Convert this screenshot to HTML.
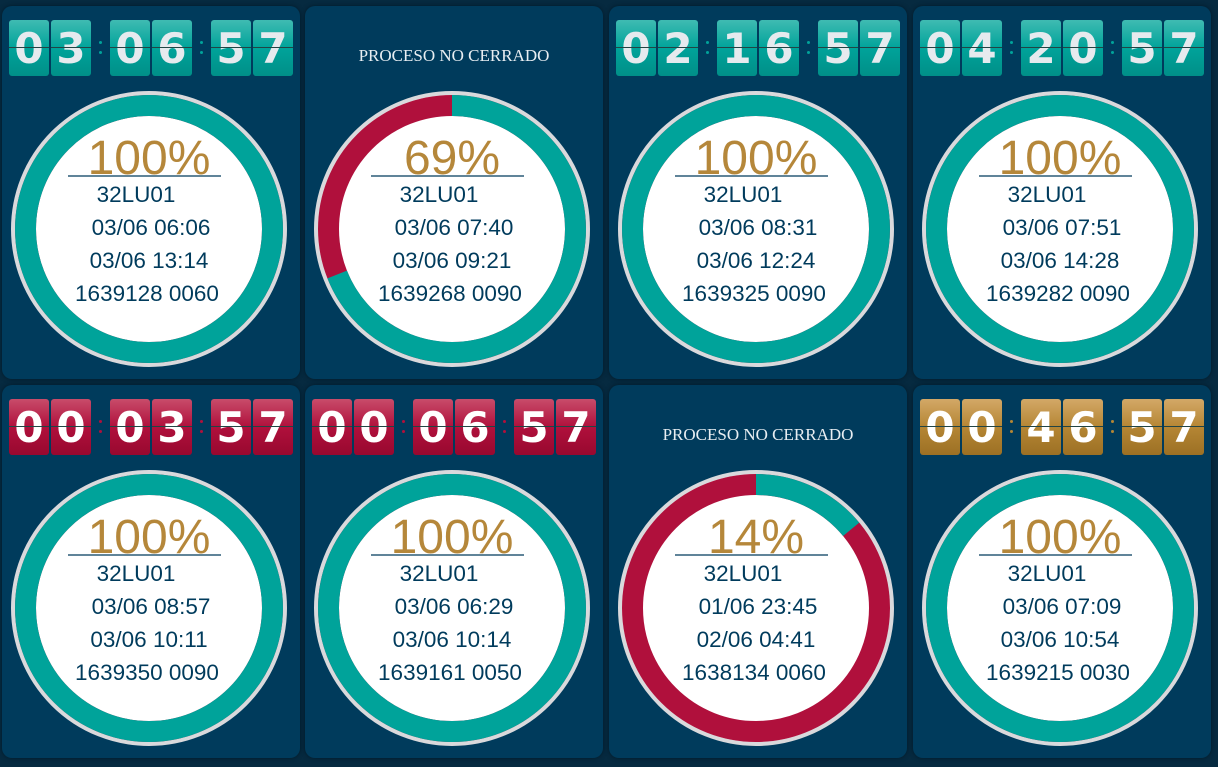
<!DOCTYPE html>
<html><head><meta charset="utf-8"><style>
body{margin:0;width:1218px;height:767px;background:#062a40;overflow:hidden;font-family:"Liberation Sans",sans-serif;position:relative}
.card{position:absolute;width:298px;height:373px;background:#003b5c;border-radius:10px;box-shadow:0 0 4px #021a28}
.dg{position:absolute;top:14px;width:40px;height:56px;border-radius:3px;font-weight:bold;font-size:42px;line-height:58px;text-align:center;color:#e6eaee;font-family:"DejaVu Sans","Liberation Sans",sans-serif}
.dg::after{content:"";position:absolute;left:0;right:0;top:27px;height:1px;background:#244}
.t{background:linear-gradient(#3fbbb2,#00a39a 50%,#008f88)}
.r{background:linear-gradient(#c84c6a,#b0103c 50%,#98082f);color:#fff}
.g{background:linear-gradient(#d3a867,#b58634 50%,#9c7024);color:#fff}
.col{position:absolute;top:35px;width:4px;height:14px;font-size:0}
.col::before,.col::after{content:"";position:absolute;left:0;width:3px;height:3px;border-radius:2px;background:var(--c)}
.col::before{top:0}.col::after{top:10px}
.nc{position:absolute;top:40px;width:298px;text-align:center;color:#e8eef2;font-family:"Liberation Serif",serif;font-size:17px}
svg{position:absolute;left:0;top:0}
</style></head><body>
<script>
const pct=[100,69,100,100,100,100,14,100];
const codes=["32LU01","32LU01","32LU01","32LU01","32LU01","32LU01","32LU01","32LU01"];
const start=["03/06 06:06","03/06 07:40","03/06 08:31","03/06 07:51","03/06 08:57","03/06 06:29","01/06 23:45","03/06 07:09"];
const end=["03/06 13:14","03/06 09:21","03/06 12:24","03/06 14:28","03/06 10:11","03/06 10:14","02/06 04:41","03/06 10:54"];
const orders=["1639128 0060","1639268 0090","1639325 0090","1639282 0090","1639350 0090","1639161 0050","1638134 0060","1639215 0030"];
const timers=["03:06:57",null,"02:16:57","04:20:57","00:03:57","00:06:57",null,"00:46:57"];
const themes=["t",null,"t","t","r","r",null,"g"];
const lefts=[2,305,609,913], tops=[6,385];
const colC={t:"#00a39a",r:"#b0103c",g:"#b58634"};
let svgs='';
for(let i=0;i<8;i++){
 const cx=lefts[i%4], cy=tops[Math.floor(i/4)];
 const c=document.createElement('div');c.className='card';c.style.left=cx+'px';c.style.top=cy+'px';
 
 
 document.body.appendChild(c);
 if(timers[i]){
  const ds=timers[i].replace(/:/g,'');const xs=[7,49,108,150,209,251];
  for(let k=0;k<6;k++){const d=document.createElement('div');d.className='dg '+themes[i];d.style.left=xs[k]+'px';d.textContent=ds[k];
   
   
   c.appendChild(d);}
  [97,198].forEach(x=>{const s=document.createElement('div');s.className='col';s.style.left=x+'px';s.style.setProperty('--c',colC[themes[i]]);
   
   
   c.appendChild(s);});
 } else {
  const n=document.createElement('div');n.className='nc';n.textContent='PROCESO NO CERRADO';
  
  
  c.appendChild(n);
 }
 const X=cx+147, Y=cy+223, R=123.5;
 const p=pct[i]/100;
 let g=`<circle cx="${X}" cy="${Y}" r="136" fill="#fff" stroke="#d9d9dc" stroke-width="4"/>`;
 g+=`<circle cx="${X}" cy="${Y}" r="${R}" fill="none" stroke="#b0103c" stroke-width="21"/>`;
 if(p>=1) g+=`<circle cx="${X}" cy="${Y}" r="${R}" fill="none" stroke="#00a39a" stroke-width="21"/>`;
 else{const a=p*2*Math.PI;const ex=X+R*Math.sin(a),ey=Y-R*Math.cos(a);
  g+=`<path d="M${X} ${Y-R} A${R} ${R} 0 ${p>0.5?1:0} 1 ${ex} ${ey}" fill="none" stroke="#00a39a" stroke-width="21"/>`;}
 g+=`<text x="${X}" y="${Y-55}" text-anchor="middle" font-size="48" fill="#b5873a">${pct[i]}%</text>`;
 g+=`<line x1="${X-81}" y1="${Y-53}" x2="${X+72}" y2="${Y-53}" stroke="#003b5c" stroke-width="1.2"/>`;
 g+=`<text x="${X-13}" y="${Y-27}" text-anchor="middle" font-size="22.5" fill="#003b5c">${codes[i]}</text>`;
 g+=`<text x="${X+2}" y="${Y+6}" text-anchor="middle" font-size="22.5" fill="#003b5c">${start[i]}</text>`;
 g+=`<text x="${X}" y="${Y+39}" text-anchor="middle" font-size="22.5" fill="#003b5c">${end[i]}</text>`;
 g+=`<text x="${X-2}" y="${Y+72}" text-anchor="middle" font-size="22.5" fill="#003b5c">${orders[i]}</text>`;
 svgs+=`<g>${g}</g>`;
}
const sv=document.createElementNS('http://www.w3.org/2000/svg','svg');
sv.setAttribute('width','1218');sv.setAttribute('height','767');


sv.innerHTML=svgs;document.body.appendChild(sv);
</script>
</body></html>
